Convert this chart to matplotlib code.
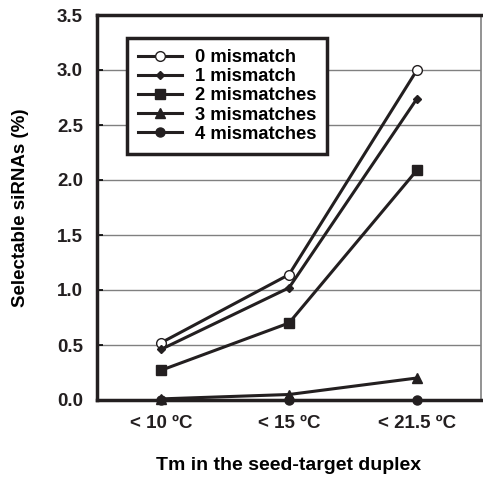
import matplotlib
matplotlib.use("Agg")
import matplotlib.pyplot as plt

categories = ["< 10 ºC", "< 15 ºC", "< 21.5 ºC"]
labels = ["0 mismatch", "1 mismatch", "2 mismatches", "3 mismatches", "4 mismatches"]
mm0 = [0.52, 1.14, 3.00]
mm1 = [0.46, 1.02, 2.74]
mm2 = [0.27, 0.70, 2.09]
mm3 = [0.01, 0.05, 0.20]
mm4 = [0.00, 0.00, 0.00]
yticks = [0.0, 0.5, 1.0, 1.5, 2.0, 2.5, 3.0, 3.5]

plt.rcParams["font.family"] = ["Liberation Sans", "DejaVu Sans"]
plt.rcParams["font.weight"] = "bold"

fig = plt.figure(figsize=(4.83, 4.78), dpi=100)
ax = fig.add_axes([97 / 483, 1 - 400 / 478, 384 / 483, 385 / 478])

x = [i + 0.5 for i in range(len(categories))]
line_kw = dict(color="#231f20", lw=2.2, clip_on=False, zorder=3)
ax.plot(x, mm0, marker="o", ms=7, mfc="white", mec="#231f20", mew=1.0, label=labels[0], **line_kw)
ax.plot(x, mm1, marker="D", ms=4.5, label=labels[1], **line_kw)
ax.plot(x, mm2, marker="s", ms=7.5, label=labels[2], **line_kw)
ax.plot(x, mm3, marker="^", ms=7, label=labels[3], **line_kw)
ax.plot(x, mm4, marker="o", ms=6.5, label=labels[4], **line_kw)

ax.set_xlim(0, 3)
ax.set_ylim(0, 3.5)
ax.set_yticks(yticks)
ax.set_yticklabels([f"{v:.1f}" for v in yticks], fontsize=13.5, fontweight="bold", color="#231f20")
ax.set_xticks(x)
ax.set_xticklabels(categories, fontsize=13.5, fontweight="bold", color="#231f20")
ax.tick_params(axis="y", direction="in", length=4, width=1.2, pad=10)
ax.tick_params(axis="x", length=0, pad=11)
ax.yaxis.grid(True, color="#808080", lw=1.0)
ax.set_axisbelow(True)

for side in ["left", "top", "bottom"]:
    ax.spines[side].set_linewidth(2.5)
    ax.spines[side].set_color("#231f20")
ax.spines["right"].set_linewidth(1.2)
ax.spines["right"].set_color("#808080")

ax.set_ylabel("Selectable siRNAs (%)", fontsize=13.5, fontweight="bold", labelpad=20)
ax.set_xlabel("Tm in the seed-target duplex", fontsize=14, fontweight="bold", labelpad=18)

leg = ax.legend(loc="upper left", bbox_to_anchor=(0.078, 0.94), borderaxespad=0,
                frameon=True, fancybox=False, handlelength=2.4, handletextpad=0.7,
                labelspacing=0.12, borderpad=0.6, prop={"weight": "bold", "size": 13.2})
leg.get_frame().set_edgecolor("#231f20")
leg.get_frame().set_linewidth(2.5)
leg.get_frame().set_alpha(1)

fig.savefig("out.png", dpi=100)
